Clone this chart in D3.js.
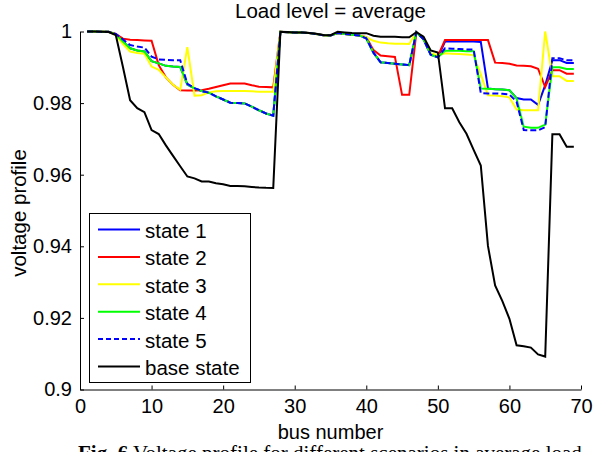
<!DOCTYPE html>
<html>
<head>
<meta charset="utf-8">
<script src="https://cdn.jsdelivr.net/npm/d3@7"></script>
<style>
  html, body { margin: 0; padding: 0; background: #fff; }
  svg { display: block; }
  text { font-family: "Liberation Sans", Arial, sans-serif; fill: #000; }
</style>
</head>
<body>
<svg id="chart" width="595" height="452"></svg>
<script>
// Bus voltage profile of the 69-bus feeder, average load level
const buses = d3.range(1, 70);

const baseState = [
  1.0000, 0.99997, 0.99993, 0.99984, 0.99902, 0.99009, 0.98079, 0.97858, 0.97745, 0.97245,
  0.97135, 0.96819, 0.96526, 0.96237, 0.95950, 0.95897, 0.95809, 0.95808, 0.95761, 0.95732,
  0.95683, 0.95683, 0.95675, 0.95658, 0.95640, 0.95632, 0.95630,
  0.99993, 0.99985, 0.99973, 0.99971, 0.99961, 0.99935, 0.99901, 0.99895, 0.99992, 0.99975, 0.99959, 0.99954,
  0.99954, 0.99884, 0.99855, 0.99851, 0.99850, 0.99841, 0.99840, 0.99979, 0.99854, 0.99470, 0.99415,
  0.97854, 0.97853, 0.97466, 0.97142, 0.96695, 0.96257, 0.94010, 0.92904, 0.92476, 0.91974,
  0.91236, 0.91208, 0.91170, 0.90981, 0.90920, 0.97129, 0.97129, 0.96779, 0.96779
];

const state1 = [
  1.0000, 0.99998, 0.99995, 0.9999, 0.9992, 0.9972, 0.9953, 0.9947, 0.9944, 0.9917,
  0.9911, 0.9904, 0.9902, 0.9901, 0.9852, 0.9841, 0.9834, 0.9829, 0.9819, 0.9810,
  0.9801, 0.9800, 0.9799, 0.9790, 0.9780, 0.9771, 0.9765,
  0.9999, 0.9998, 0.9997, 0.9997, 0.9996, 0.9993, 0.99895, 0.9989, 0.9996, 0.9993, 0.9991, 0.9989,
  0.9981, 0.9941, 0.9914, 0.9912, 0.9910, 0.9908, 0.9906, 0.9998, 0.9978, 0.9935, 0.9928,
  0.9972, 0.9972, 0.9972, 0.9972, 0.9972, 0.9971, 0.9841, 0.9839, 0.9838, 0.9836,
  0.9814, 0.9810, 0.9810, 0.9795, 0.9850, 0.9920, 0.9920, 0.9912, 0.9912
];

const state2 = [
  1.0000, 0.99998, 0.99995, 0.9999, 0.9993, 0.9980, 0.9977, 0.9976, 0.9975, 0.9974,
  0.9906, 0.9872, 0.9851, 0.9836, 0.9835, 0.9835, 0.9836, 0.9840, 0.9845, 0.9850,
  0.9855, 0.9855, 0.9855, 0.9850, 0.9846, 0.9845, 0.9844,
  0.9999, 0.9998, 0.9997, 0.9997, 0.9996, 0.9993, 0.99895, 0.9989, 0.9996, 0.9993, 0.9991, 0.9989,
  0.9984, 0.9948, 0.9933, 0.9931, 0.9929, 0.9823, 0.9823, 0.9998, 0.9980, 0.9937, 0.9931,
  0.9976, 0.9976, 0.9976, 0.9976, 0.9976, 0.9976, 0.9976, 0.9913, 0.9912, 0.9910,
  0.9905, 0.9904, 0.9903, 0.9896, 0.9845, 0.9892, 0.9892, 0.9882, 0.9882
];

const state3 = [
  1.0000, 0.99998, 0.99994, 0.9999, 0.9990, 0.9965, 0.9944, 0.9940, 0.9938, 0.9902,
  0.9893, 0.9872, 0.9851, 0.9837, 0.9956, 0.9821, 0.9822, 0.9830, 0.9833, 0.9834,
  0.9834, 0.9834, 0.9834, 0.9833, 0.9832, 0.9832, 0.9832,
  0.9999, 0.9998, 0.9997, 0.9997, 0.9996, 0.9993, 0.99895, 0.9989, 0.9996, 0.9993, 0.9991, 0.9989,
  0.9984, 0.9974, 0.9969, 0.9967, 0.9966, 0.9966, 0.9965, 0.9998, 0.9981, 0.9940, 0.9933,
  0.9939, 0.9938, 0.9937, 0.9936, 0.9934, 0.9880, 0.9822, 0.9821, 0.9819, 0.9816,
  0.9782, 0.9780, 0.9780, 0.9780, 1.0000, 0.9875, 0.9875, 0.9862, 0.9862
];

const state4 = [
  1.0000, 0.99998, 0.99995, 0.9999, 0.9992, 0.9972, 0.9953, 0.9947, 0.9944, 0.9917,
  0.9911, 0.9904, 0.9902, 0.9901, 0.9852, 0.9841, 0.9834, 0.9829, 0.9819, 0.9810,
  0.9801, 0.9800, 0.9799, 0.9790, 0.9780, 0.9771, 0.9765,
  0.9999, 0.9998, 0.9997, 0.9997, 0.9996, 0.9993, 0.99895, 0.9989, 0.9996, 0.9993, 0.9991, 0.9989,
  0.9981, 0.9941, 0.9914, 0.9912, 0.9910, 0.9908, 0.9906, 0.9998, 0.9978, 0.9935, 0.9928,
  0.9946, 0.9946, 0.9946, 0.9945, 0.9945, 0.9841, 0.9840, 0.9839, 0.9838, 0.9836,
  0.9813, 0.9734, 0.9731, 0.9731, 0.9740, 0.9900, 0.9900, 0.9895, 0.9895
];

const state5 = [
  1.0000, 0.99998, 0.99995, 0.9999, 0.9993, 0.9978, 0.9962, 0.9958, 0.9955, 0.9930,
  0.9922, 0.9921, 0.9920, 0.9920, 0.9854, 0.9842, 0.9834, 0.9829, 0.9819, 0.9810,
  0.9801, 0.9800, 0.9799, 0.9790, 0.9780, 0.9771, 0.9765,
  0.9999, 0.9998, 0.9997, 0.9997, 0.9996, 0.9993, 0.99895, 0.9989, 0.9996, 0.9993, 0.9991, 0.9989,
  0.9981, 0.9941, 0.9914, 0.9912, 0.9910, 0.9908, 0.9906, 0.9998, 0.9978, 0.9935, 0.9928,
  0.9953, 0.9952, 0.9951, 0.9950, 0.9950, 0.9828, 0.9827, 0.9827, 0.9826, 0.9824,
  0.9804, 0.9725, 0.9724, 0.9724, 0.9733, 0.9925, 0.9925, 0.9920, 0.9920
];

const seriesNames = ["state 1", "state 2", "state 3", "state 4", "state 5", "base state"];
const seriesValues = [state1, state2, state3, state4, state5, baseState];
const seriesColors = ["#0000ff", "#ff0000", "#ffff00", "#00ff00", "#0000ff", "#000000"];
const seriesDash = [null, null, null, null, "6,3", null];

const xTickValues = [0, 10, 20, 30, 40, 50, 60, 70];
const yTickValues = [0.9, 0.92, 0.94, 0.96, 0.98, 1];
const yTickLabels = ["0.9", "0.92", "0.94", "0.96", "0.98", "1"];

const titleText = "Load level = average";
const xLabelText = "bus number";
const yLabelText = "voltage profile";

// ---- layout ----
const svg = d3.select("#chart");
const plot = { left: 80, right: 581, top: 31.5, bottom: 389.5 };

const x = d3.scaleLinear().domain([0, 70]).range([plot.left, plot.right]);
const y = d3.scaleLinear().domain([0.9, 1.0]).range([plot.bottom, plot.top]);

// axes (ticks point inward, no box)
const xAxis = d3.axisBottom(x)
  .tickValues(xTickValues)
  .tickFormat(d3.format("d"))
  .tickSizeInner(-4)
  .tickSizeOuter(0)
  .tickPadding(9);

const yAxis = d3.axisLeft(y)
  .tickValues(yTickValues)
  .tickFormat((d, i) => yTickLabels[i])
  .tickSizeInner(-4)
  .tickSizeOuter(0)
  .tickPadding(8);

const gx = svg.append("g")
  .attr("transform", `translate(0,${plot.bottom})`)
  .call(xAxis);
const gy = svg.append("g")
  .attr("transform", `translate(${plot.left},0)`)
  .call(yAxis);

[gx, gy].forEach(g => {
  g.select(".domain").attr("stroke", "#000").attr("stroke-width", 1);
  g.selectAll(".tick line").attr("stroke", "#000").attr("stroke-width", 1);
  g.selectAll(".tick text")
    .attr("font-family", "Liberation Sans, Arial, sans-serif")
    .attr("font-size", 20)
    .attr("fill", "#000");
});

// series lines
const line = d3.line()
  .x((d, i) => x(buses[i]))
  .y(d => y(d));

svg.append("g")
  .selectAll("path")
  .data(seriesValues)
  .join("path")
  .attr("d", d => line(d))
  .attr("fill", "none")
  .attr("stroke", (d, i) => seriesColors[i])
  .attr("stroke-width", 2)
  .attr("stroke-dasharray", (d, i) => seriesDash[i]);

// title and axis labels
svg.append("text")
  .attr("x", (plot.left + plot.right) / 2)
  .attr("y", 18)
  .attr("text-anchor", "middle")
  .attr("font-size", 20.5)
  .text(titleText);

svg.append("text")
  .attr("x", (plot.left + plot.right) / 2)
  .attr("y", 439)
  .attr("text-anchor", "middle")
  .attr("font-size", 20)
  .text(xLabelText);

svg.append("text")
  .attr("transform", "translate(26,213) rotate(-90)")
  .attr("text-anchor", "middle")
  .attr("font-size", 20.5)
  .text(yLabelText);

// legend
const legend = svg.append("g");
legend.append("rect")
  .attr("x", 89.5).attr("y", 213.5)
  .attr("width", 161).attr("height", 169)
  .attr("fill", "#fff")
  .attr("stroke", "#000")
  .attr("stroke-width", 1);

const rows = legend.selectAll("g.row")
  .data(seriesNames.map((name, i) => ({ name, color: seriesColors[i], dash: seriesDash[i] })))
  .join("g")
  .attr("class", "row")
  .attr("transform", (d, i) => `translate(0,${229.5 + i * 27.4})`);

rows.append("line")
  .attr("x1", 98).attr("x2", 140)
  .attr("y1", 0).attr("y2", 0)
  .attr("stroke", d => d.color)
  .attr("stroke-width", 2)
  .attr("stroke-dasharray", d => d.dash ? "5,3" : null);

rows.append("text")
  .attr("x", 145)
  .attr("y", 8.5)
  .attr("font-size", 20.5)
  .text(d => d.name);

// figure caption below the chart
const caption = svg.append("text")
  .attr("x", 78)
  .attr("y", 460)
  .attr("font-size", 21)
  .style("font-family", "'Liberation Serif', 'Times New Roman', serif");
caption.append("tspan").attr("font-weight", "bold").text("Fig. 6");
caption.append("tspan").text(" Voltage profile for different scenarios in average load");
</script>
</body>
</html>
